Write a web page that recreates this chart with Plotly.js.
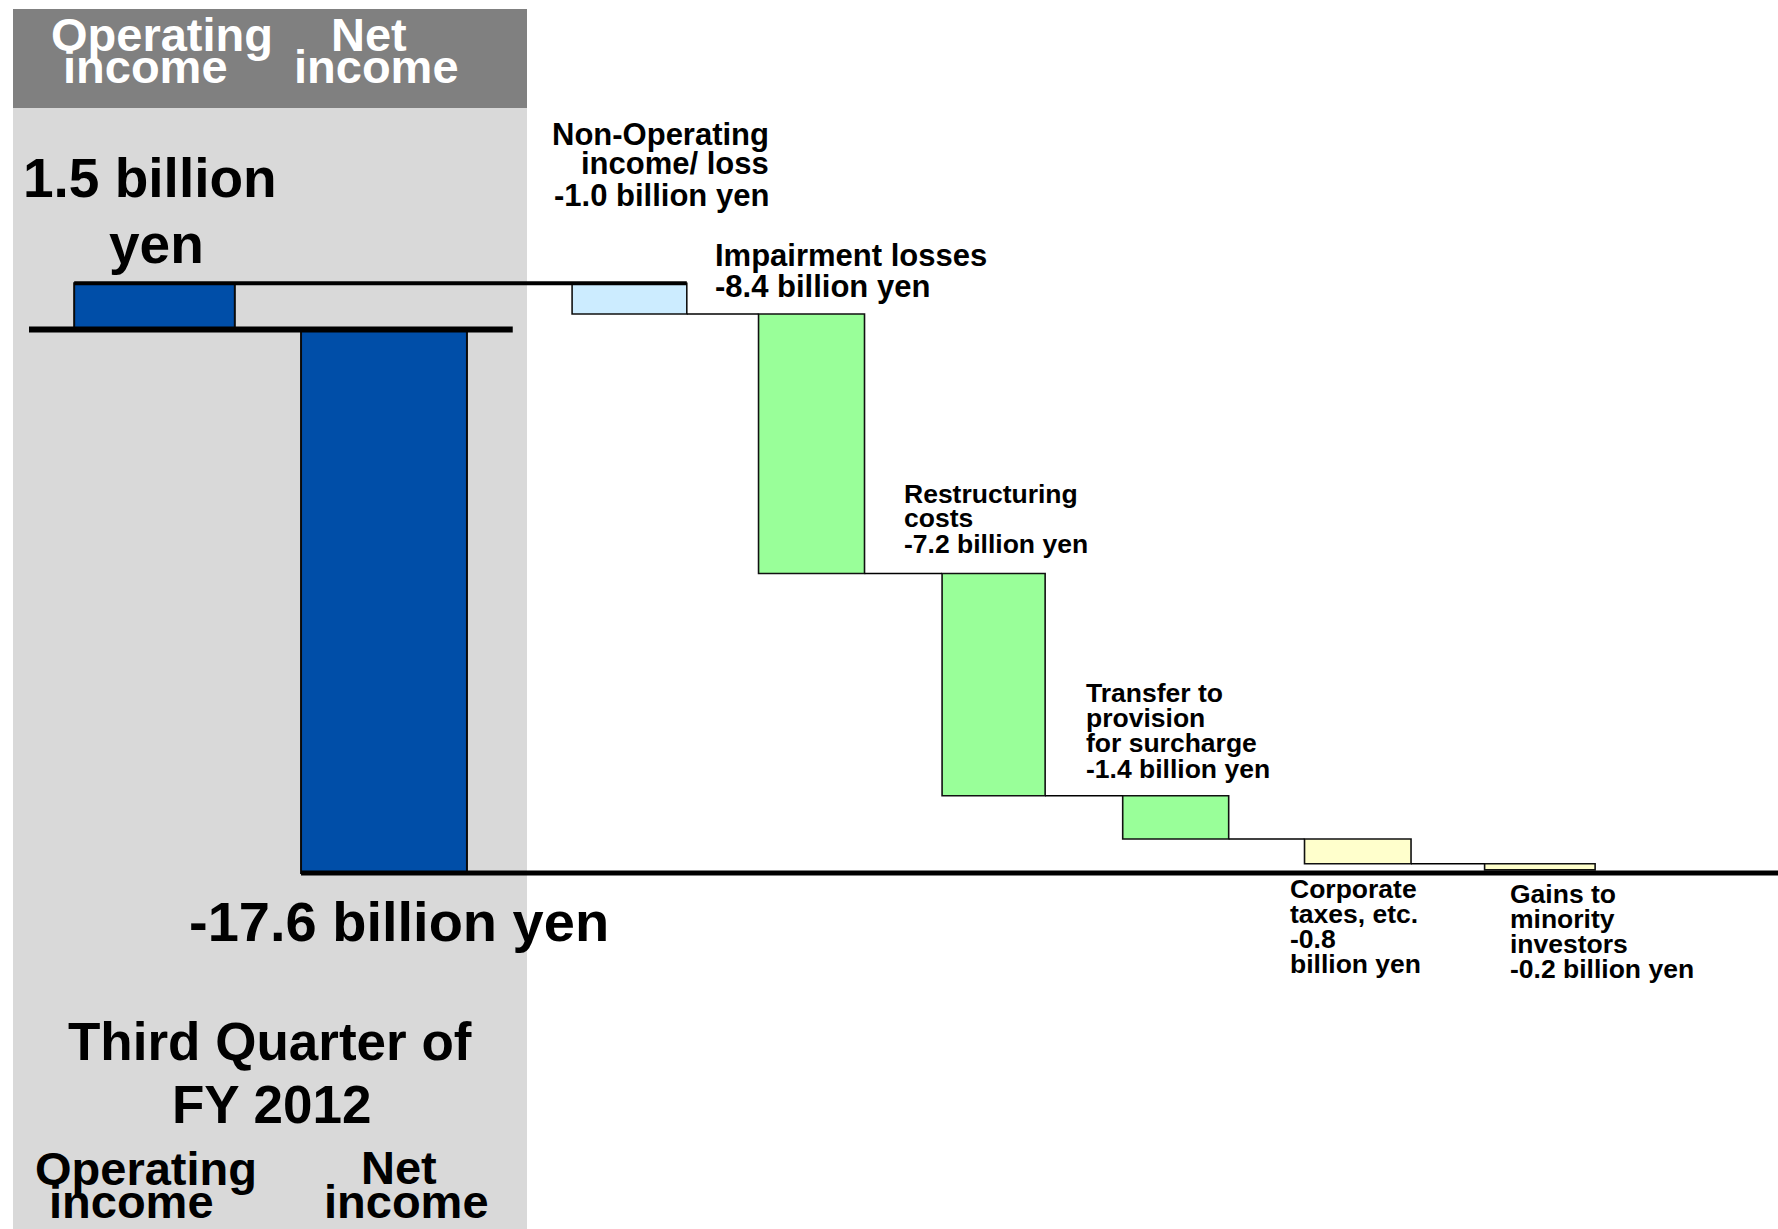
<!DOCTYPE html>
<html><head><meta charset="utf-8">
<script src="https://cdn.plot.ly/plotly-3.0.1.min.js"></script>
<style>html,body{margin:0;padding:0;background:#fff;overflow:hidden}#chart{width:1778px;height:1229px}</style>
</head><body><div id="chart"></div>
<script>
// ---------- data ----------
const summaryCategories = ['Operating income', 'Net income'];
const operatingIncome = 1.5;
const netIncome = -17.6;
const stepCategories = ['Non-Operating income/ loss', 'Impairment losses', 'Restructuring costs',
  'Transfer to provision for surcharge', 'Corporate taxes, etc.', 'Gains to minority investors'];
const stepValues = [-1.0, -8.4, -7.2, -1.4, -0.8, -0.2];
const stepLabelLines = [
  ['Non-Operating', 'income/ loss', '{v} billion yen'],
  ['Impairment losses', '{v} billion yen'],
  ['Restructuring', 'costs', '{v} billion yen'],
  ['Transfer to', 'provision', 'for surcharge', '{v} billion yen'],
  ['Corporate', 'taxes, etc.', '{v}', 'billion yen'],
  ['Gains to', 'minority', 'investors', '{v} billion yen']
];
const headerLines = [['Operating', 'income'], ['Net', 'income']];
const periodLines = ['Third Quarter of', 'FY 2012'];
const unit = 'billion yen';

// ---------- layout geometry (pixels) ----------
const W = 1778, H = 1229;
const PXB = 30.88, Y0 = 329.5;
const yRange = [-(H - Y0) / PXB, Y0 / PXB];
const leftDom = [39.75, 498.75], rightDom = [538.4, 1630.9];
const leftWidths = [0.70, 0.723];
const rightWidths = [0.63, 0.582, 0.566, 0.582, 0.585, 0.607];
const FONT = 'Liberation Sans, Arial, Helvetica, sans-serif';

const ppx = p => p / W;
const ppy = p => 1 - p / H;
const py = v => (v - yRange[0]) / (yRange[1] - yRange[0]);
function xOn(dom, n, pos) { return ppx(dom[0] + (pos + 0.5) / n * (dom[1] - dom[0])); }
const xL = pos => xOn(leftDom, summaryCategories.length, pos);
const xR = pos => xOn(rightDom, stepCategories.length, pos);

// waterfall bases
const bases = []; const levels = [];
let run = operatingIncome;
stepValues.forEach(v => { bases.push(run); run += v; levels.push(run); });

const fmt = v => v.toFixed(1);

// ---------- traces ----------
const traces = [
  {
    type: 'bar', x: summaryCategories, y: [operatingIncome, netIncome], base: [0, 0],
    xaxis: 'x', yaxis: 'y', width: leftWidths,
    marker: {color: '#004EA8', line: {color: '#0a0a0a', width: 2}}, hoverinfo: 'none'
  },
  {
    type: 'bar', x: stepCategories, y: stepValues, base: bases,
    xaxis: 'x2', yaxis: 'y', width: rightWidths,
    marker: {color: ['#CCECFF', '#99FF99', '#99FF99', '#99FF99', '#FFFFCC', '#FFFFCC'],
             line: {color: '#111', width: 1.6}}, hoverinfo: 'none'
  }
];

// ---------- shapes ----------
const shapes = [
  {type: 'rect', xref: 'paper', yref: 'paper', layer: 'below', x0: ppx(13), x1: ppx(527), y0: ppy(9), y1: ppy(108),
   fillcolor: '#808080', line: {width: 0}},
  {type: 'rect', xref: 'paper', yref: 'paper', layer: 'below', x0: ppx(13), x1: ppx(527), y0: ppy(108), y1: 0,
   fillcolor: '#D9D9D9', line: {width: 0}}
];
function hline(x0, x1, v, w) {
  shapes.push({type: 'line', xref: 'paper', yref: 'paper', x0, x1, y0: py(v), y1: py(v), line: {color: '#000', width: w}});
}
// opening level line
hline(xL(-leftWidths[0] / 2), xR(rightWidths[0] / 2), operatingIncome, 4);
// zero baseline of the summary panel
hline(ppx(leftDom[0] - 10.75), ppx(leftDom[1] + 14), 0, 6);
// connectors
for (let i = 0; i < stepValues.length - 1; i++) {
  hline(xR(i + rightWidths[i] / 2), xR(i + 1 - rightWidths[i + 1] / 2), levels[i], 1.6);
}
// closing level line
hline(xL(1 - leftWidths[1] / 2), 1, netIncome, 5);

// ---------- annotations ----------
const annotations = [];
function lab(text, xpx, base, size, anchor, color) {
  annotations.push({xref: 'paper', yref: 'paper', x: ppx(xpx), y: ppy(base - 0.35 * size),
    xanchor: anchor, yanchor: 'middle', showarrow: false, text: '<b>' + text + '</b>',
    font: {family: FONT, size: size, color: color || '#000'}, borderpad: 0});
}
// header
lab(headerLines[0][0], 162, 51, 47, 'center', '#fff');
lab(headerLines[0][1], 145.6, 83, 47, 'center', '#fff');
lab(headerLines[1][0], 369, 51, 47, 'center', '#fff');
lab(headerLines[1][1], 376, 83, 47, 'center', '#fff');
// operating income value
const unitParts = unit.split(' ');
lab(fmt(operatingIncome) + ' ' + unitParts[0], 150, 197, 55, 'center');
lab(unitParts[1], 156.7, 263, 55, 'center');
// net income value
lab(fmt(netIncome) + ' ' + unit, 188, 941, 56, 'left');
// period
lab(periodLines[0], 270, 1060, 53, 'center');
lab(periodLines[1], 271, 1123, 53, 'center');
// bottom category labels
lab(headerLines[0][0], 146, 1185, 47, 'center');
lab(headerLines[0][1], 131, 1218, 47, 'center');
lab(headerLines[1][0], 399, 1184, 47, 'center');
lab(headerLines[1][1], 406, 1218, 47, 'center');
// step labels
const stepLabelPos = [
  {x: 770, b: [145, 174, 206], s: 31, a: 'right'},
  {x: 714, b: [266, 297], s: 31, a: 'left'},
  {x: 903, b: [503, 527, 553], s: 26.5, a: 'left'},
  {x: 1085, b: [702, 727, 752, 778], s: 26.5, a: 'left'},
  {x: 1288.7, b: [898, 923, 948, 973], s: 26.5, a: 'left'},
  {x: 1508.6, b: [903, 928, 953, 978], s: 26.5, a: 'left'}
];
stepLabelLines.forEach((lines, i) => {
  const p = stepLabelPos[i];
  lines.forEach((ln, j) => lab(ln.replace('{v}', fmt(stepValues[i])), p.x, p.b[j], p.s, p.a));
});

const axHidden = {visible: false, showgrid: false, zeroline: false, fixedrange: true};
const layout = {
  width: W, height: H, margin: {l: 0, r: 0, t: 0, b: 0, pad: 0},
  paper_bgcolor: '#fff', plot_bgcolor: 'rgba(0,0,0,0)', showlegend: false, hovermode: false,
  xaxis: Object.assign({type: 'category', domain: [ppx(leftDom[0]), ppx(leftDom[1])],
    range: [-0.5, summaryCategories.length - 0.5], anchor: 'y'}, axHidden),
  xaxis2: Object.assign({type: 'category', domain: [ppx(rightDom[0]), ppx(rightDom[1])],
    range: [-0.5, stepCategories.length - 0.5], anchor: 'y'}, axHidden),
  yaxis: Object.assign({range: yRange, domain: [0, 1]}, axHidden),
  shapes, annotations
};
Plotly.newPlot('chart', traces, layout, {staticPlot: true, displayModeBar: false});
</script></body></html>
